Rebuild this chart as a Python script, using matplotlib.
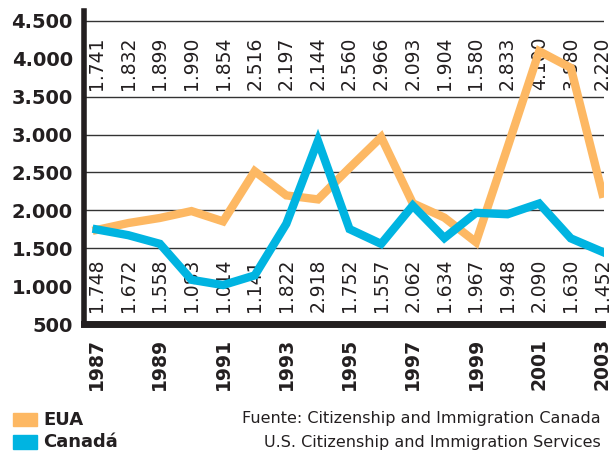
import matplotlib.pyplot as plt
from matplotlib.patches import Rectangle

# Data
years = list(range(1987, 2004))
eua = [1741, 1832, 1899, 1990, 1854, 2516, 2197, 2144, 2560, 2966,
       2093, 1904, 1580, 2833, 4100, 3880, 2220]
canada = [1748, 1672, 1558, 1083, 1014, 1141, 1822, 2918, 1752, 1557,
          2062, 1634, 1967, 1948, 2090, 1630, 1452]
y_ticks = [500, 1000, 1500, 2000, 2500, 3000, 3500, 4000, 4500]
grid_lines = [1500, 2000, 2500, 3000, 3500, 4500]
x_ticks = years[::2]

orange = '#FDB863'
blue = '#00B4E1'


def fmt(v):
    # thousands separator as a dot
    return f"{v:,}".replace(',', '.')


fig = plt.figure(figsize=(6.13, 4.51), dpi=100)
ax = fig.add_axes([84 / 613, 1 - 324 / 451, (604 - 84) / 613, (324 - 11) / 451])

ax.set_xlim(1986.6, 2003.05)
ax.set_ylim(500, 4630)

for g in grid_lines:
    ax.axhline(g, color='#333333', lw=1.0, zorder=1)

# value labels
for yr, v in zip(years, eua):
    ax.text(yr, 3590, fmt(v), rotation=90, ha='center', va='bottom',
            fontsize=13.5, color='#231f20', zorder=2)
for yr, v in zip(years, canada):
    ax.text(yr, 655, fmt(v), rotation=90, ha='center', va='bottom',
            fontsize=13.5, color='#231f20', zorder=2)

ax.plot(years, eua, color=orange, lw=6, solid_joinstyle='miter', zorder=3)
ax.plot(years, canada, color=blue, lw=6, solid_joinstyle='miter', zorder=4)

ax.spines['top'].set_visible(False)
ax.spines['right'].set_visible(False)
ax.spines['left'].set_linewidth(4)
ax.spines['bottom'].set_linewidth(5)
ax.spines['left'].set_color('#231f20')
ax.spines['bottom'].set_color('#231f20')
ax.spines['bottom'].set_bounds(1986.6, 2003)

ax.set_yticks(y_ticks)
ax.set_yticklabels([fmt(v) for v in y_ticks], fontsize=14, fontweight='bold',
                   color='#231f20')
ax.set_xticks(x_ticks)
ax.set_xticklabels([str(y) for y in x_ticks], rotation=90, fontsize=13.5,
                   fontweight='bold', color='#231f20')
ax.tick_params(axis='y', length=0, pad=8)
ax.tick_params(axis='x', length=0, pad=10)

# legend
fig.patches.append(Rectangle((13 / 613, 1 - 426 / 451), 24 / 613, 13 / 451,
                             transform=fig.transFigure, color=orange))
fig.patches.append(Rectangle((13 / 613, 1 - 449 / 451), 24 / 613, 14 / 451,
                             transform=fig.transFigure, color=blue))
fig.text(43 / 613, 1 - 420 / 451, 'EUA', fontsize=13, fontweight='bold',
         va='center', ha='left', color='#231f20')
fig.text(43 / 613, 1 - 442 / 451, 'Canadá', fontsize=13, fontweight='bold',
         va='center', ha='left', color='#231f20')

fig.text(601 / 613, 1 - 418 / 451, 'Fuente: Citizenship and Immigration Canada',
         fontsize=11.5, ha='right', va='center', color='#231f20')
fig.text(601 / 613, 1 - 443 / 451, 'U.S. Citizenship and Immigration Services',
         fontsize=11.5, ha='right', va='center', color='#231f20')

fig.savefig('out.png', dpi=100)
